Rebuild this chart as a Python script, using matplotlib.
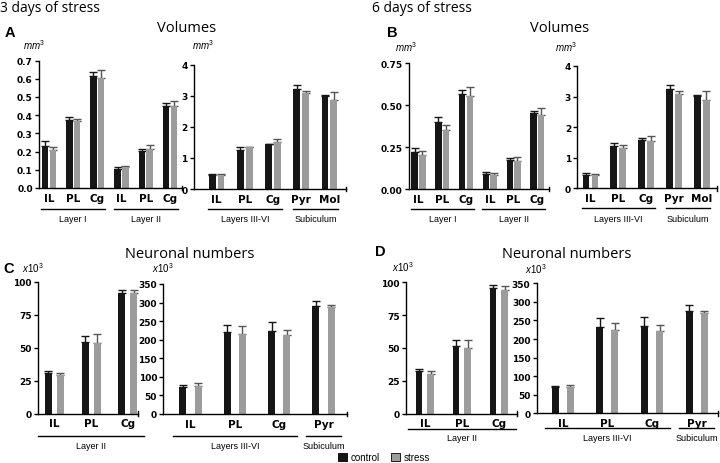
import matplotlib
matplotlib.use('Agg')
import matplotlib.pyplot as plt
import matplotlib.transforms as mtransforms
from matplotlib.patches import Patch
import numpy as np

plt.rcParams['mathtext.fontset'] = 'custom'
plt.rcParams['mathtext.it'] = 'Liberation Sans:italic'
plt.rcParams['mathtext.rm'] = 'Liberation Sans'

# ---------------- data ----------------
cats_vol_L = ['IL', 'PL', 'Cg', 'IL', 'PL', 'Cg']
cats_vol_R = ['IL', 'PL', 'Cg', 'Pyr', 'Mol']
cats_num_L = ['IL', 'PL', 'Cg']
cats_num_R = ['IL', 'PL', 'Cg', 'Pyr']

groups_vol_L = [('Layer I', 0, 2), ('Layer II', 3, 5)]
groups_vol_R = [('Layers III-VI', 0, 2), ('Subiculum', 3, 4)]
groups_num_L = [('Layer II', 0, 2)]
groups_num_R = [('Layers III-VI', 0, 2), ('Subiculum', 3, 3)]

# Panel A (3 days) volumes
A_L_ctrl = [0.232, 0.373, 0.617, 0.104, 0.205, 0.452]
A_L_ctrl_err = [0.024, 0.019, 0.018, 0.012, 0.010, 0.015]
A_L_str = [0.209, 0.366, 0.604, 0.114, 0.214, 0.448]
A_L_str_err = [0.014, 0.013, 0.046, 0.006, 0.024, 0.028]

A_R_ctrl = [0.44, 1.26, 1.43, 3.22, 2.99]
A_R_ctrl_err = [0.03, 0.075, 0.03, 0.13, 0.03]
A_R_str = [0.45, 1.34, 1.515, 3.07, 2.86]
A_R_str_err = [0.03, 0.02, 0.085, 0.08, 0.265]

# Panel B (6 days) volumes
B_L_ctrl = [0.219, 0.398, 0.567, 0.090, 0.173, 0.452]
B_L_ctrl_err = [0.024, 0.030, 0.024, 0.010, 0.012, 0.016]
B_L_str = [0.205, 0.354, 0.557, 0.086, 0.169, 0.442]
B_L_str_err = [0.024, 0.028, 0.050, 0.012, 0.024, 0.042]

B_R_ctrl = [0.44, 1.37, 1.585, 3.257, 3.005]
B_R_ctrl_err = [0.055, 0.11, 0.055, 0.13, 0.033]
B_R_str = [0.44, 1.31, 1.563, 3.093, 2.896]
B_R_str_err = [0.033, 0.09, 0.14, 0.087, 0.27]

# Panel C (3 days) neuronal numbers
C_L_ctrl = [30.8, 54.7, 91.6]
C_L_ctrl_err = [1.3, 4.6, 2.0]
C_L_str = [29.5, 53.9, 91.6]
C_L_str_err = [1.5, 6.7, 2.5]

C_R_ctrl = [73.6, 220.0, 224.4, 290.0]
C_R_ctrl_err = [5.4, 20.6, 22.5, 15.2]
C_R_str = [76.3, 215.4, 213.6, 287.3]
C_R_str_err = [6.3, 22.5, 13.4, 7.2]

# Panel D (6 days) neuronal numbers
D_L_ctrl = [32.2, 51.4, 95.4]
D_L_ctrl_err = [1.5, 4.8, 2.8]
D_L_str = [30.4, 50.1, 94.4]
D_L_str_err = [2.0, 6.1, 3.1]

D_R_ctrl = [70.0, 233.4, 236.0, 276.5]
D_R_ctrl_err = [4.5, 23.3, 22.4, 16.1]
D_R_str = [71.8, 224.4, 222.6, 269.3]
D_R_str_err = [5.4, 19.8, 16.2, 7.2]

yt_vol_A = [0.0, 0.1, 0.2, 0.3, 0.4, 0.5, 0.6, 0.7]
yl_vol_A = ['0.0', '0.1', '0.2', '0.3', '0.4', '0.5', '0.6', '0.7']
yt_vol_B = [0.0, 0.25, 0.5, 0.75]
yl_vol_B = ['0.00', '0.25', '0.50', '0.75']
yt_vol_R = [0, 1, 2, 3, 4]
yl_vol_R = ['0', '1', '2', '3', '4']
yt_num_L = [0, 25, 50, 75, 100]
yl_num_L = ['0', '25', '50', '75', '100']
yt_num_R = [0, 50, 100, 150, 200, 250, 300, 350]
yl_num_R = ['0', '50', '100', '150', '200', '250', '300', '350']

legend_labels = ['control', 'stress']

# ---------------- style ----------------
C_CTRL = '#161616'
C_STR = '#9c9c9c'
E_STR = '#555555'
W, H = 720, 464
TITLE_FONT = ['Open Sans', 'DejaVu Sans']
AX_FONT = ['DejaVu Sans']
LAB_FONT = ['Liberation Sans', 'DejaVu Sans']

fig = plt.figure(figsize=(W / 100, H / 100), dpi=100)


def draw(rect, xlim, cats, ctrl, ctrl_err, strs, str_err, groups, yticks, ylabels,
         bw, off, line_off, text_off, pad):
    l, t, r, b = rect
    ax = fig.add_axes([l / W, 1 - b / H, (r - l) / W, (b - t) / H])
    ppu = (r - l) / (xlim[1] - xlim[0])
    cap = bw * ppu * 0.40  # half cap length in points
    x = np.arange(len(cats))
    ax.bar(x - off, ctrl, bw, color=C_CTRL, zorder=2)
    ax.bar(x + off, strs, bw, color=C_STR, zorder=2)
    z = np.zeros(len(x))
    ax.errorbar(x - off, ctrl, yerr=[z, ctrl_err], fmt='none', ecolor=C_CTRL,
                elinewidth=1.0, capsize=cap, capthick=1.0, zorder=1)
    ax.errorbar(x + off, strs, yerr=[z, str_err], fmt='none', ecolor=E_STR,
                elinewidth=1.0, capsize=cap, capthick=1.0, zorder=1)
    ax.set_xlim(*xlim)
    ax.set_ylim(yticks[0], yticks[-1])
    ax.set_yticks(yticks)
    ax.set_yticklabels(ylabels, fontweight='bold', fontsize=6.5, family=AX_FONT)
    ax.set_xticks(x)
    ax.set_xticklabels(cats, fontweight='bold', fontsize=7.5, family=AX_FONT)
    ax.tick_params(axis='x', length=0, pad=3.5)
    ax.tick_params(axis='y', length=3, width=1, pad=1.5)
    for s in ('top', 'right'):
        ax.spines[s].set_visible(False)
    for s in ('left', 'bottom'):
        ax.spines[s].set_linewidth(1.0)
    ax.patch.set_visible(False)
    base = ax.get_xaxis_transform()
    ax.plot([xlim[1], xlim[1]], [-0.018, 0.018], transform=base, clip_on=False,
            color='k', lw=1.0)
    tr_line = base + mtransforms.ScaledTranslation(0, -line_off / 100, fig.dpi_scale_trans)
    tr_text = base + mtransforms.ScaledTranslation(0, -text_off / 100, fig.dpi_scale_trans)
    for name, i0, i1 in groups:
        ax.plot([i0 - pad, i1 + pad], [0, 0], transform=tr_line, clip_on=False,
                color='k', lw=1.0)
        ax.text((i0 + i1) / 2, 0, name, transform=tr_text, ha='center', va='center',
                fontsize=6.5, family=LAB_FONT)
    return ax


# Panel A
draw((39, 61.5, 182, 189), (-0.41, 5.5), cats_vol_L, A_L_ctrl, A_L_ctrl_err, A_L_str,
     A_L_str_err, groups_vol_L, yt_vol_A, yl_vol_A, 0.27, 0.16, 21, 31, 0.32)
draw((194, 65.5, 346, 190), (-0.8, 4.585), cats_vol_R, A_R_ctrl, A_R_ctrl_err, A_R_str,
     A_R_str_err, groups_vol_R, yt_vol_R, yl_vol_R, 0.24, 0.155, 20, 30, 0.3)
# Panel B
draw((409, 64.3, 549, 190), (-0.4, 5.49), cats_vol_L, B_L_ctrl, B_L_ctrl_err, B_L_str,
     B_L_str_err, groups_vol_L, yt_vol_B, yl_vol_B, 0.27, 0.16, 20, 30, 0.32)
draw((577.3, 67, 716.7, 189.3), (-0.47, 4.53), cats_vol_R, B_R_ctrl, B_R_ctrl_err, B_R_str,
     B_R_str_err, groups_vol_R, yt_vol_R, yl_vol_R, 0.24, 0.16, 20, 30, 0.3)
# Panel C
draw((38, 283, 138, 414.5), (-0.45, 2.28), cats_num_L, C_L_ctrl, C_L_ctrl_err, C_L_str,
     C_L_str_err, groups_num_L, yt_num_L, yl_num_L, 0.19, 0.164, 22, 32, 0.45)
draw((163.3, 285, 346.7, 415), (-0.61, 3.52), cats_num_R, C_R_ctrl, C_R_ctrl_err, C_R_str,
     C_R_str_err, groups_num_R, yt_num_R, yl_num_R, 0.16, 0.173, 22, 32, 0.4)
# Panel D
draw((406, 283.3, 517, 414.5), (-0.51, 2.49), cats_num_L, D_L_ctrl, D_L_ctrl_err, D_L_str,
     D_L_str_err, groups_num_L, yt_num_L, yl_num_L, 0.18, 0.16, 15, 24, 0.45)
draw((536.7, 284.3, 718, 414.3), (-0.585, 3.48), cats_num_R, D_R_ctrl, D_R_ctrl_err, D_R_str,
     D_R_str_err, groups_num_R, yt_num_R, yl_num_R, 0.157, 0.17, 15, 24, 0.4)


def ftext(x, y, s, **kw):
    fig.text(x / W, 1 - y / H, s, **kw)


ftext(0, 8, '3 days of stress', fontsize=10, family=TITLE_FONT, ha='left', va='center')
ftext(372, 8, '6 days of stress', fontsize=10, family=TITLE_FONT, ha='left', va='center')
ftext(187, 29, 'Volumes', fontsize=10.5, family=TITLE_FONT, ha='center', va='center')
ftext(560, 29, 'Volumes', fontsize=10.5, family=TITLE_FONT, ha='center', va='center')
ftext(190, 255, 'Neuronal numbers', fontsize=10.5, family=TITLE_FONT, ha='center', va='center')
ftext(567, 254, 'Neuronal numbers', fontsize=10.5, family=TITLE_FONT, ha='center', va='center')

for lx, ly, s in [(5, 33, 'A'), (387, 33, 'B'), (3, 269, 'C'), (375, 252, 'D')]:
    ftext(lx, ly, s, fontsize=10.5, fontweight='bold', family=LAB_FONT, ha='left', va='center')

MM3 = r'$\mathit{mm}^{\mathit{3}}$'
X103 = r'$\mathit{x10}^{\mathit{3}}$'
for ux, uy, s in [(23, 45, MM3), (192, 45, MM3), (395, 47, MM3), (555, 47, MM3),
                  (22, 268, X103), (152, 268, X103), (392, 267, X103), (525, 269, X103)]:
    ftext(ux, uy, s, fontsize=7, family=LAB_FONT, ha='left', va='center')

handles = [Patch(facecolor=C_CTRL, edgecolor='k', linewidth=0.6, label=legend_labels[0]),
           Patch(facecolor=C_STR, edgecolor='k', linewidth=0.6, label=legend_labels[1])]
fig.legend(handles=handles, loc='center', bbox_to_anchor=(384 / W, 1 - 458 / H), ncol=2,
           frameon=False, prop={'family': LAB_FONT, 'size': 7}, handlelength=0.9,
           handleheight=0.9, handletextpad=0.4, columnspacing=1.2, borderaxespad=0,
           borderpad=0)

fig.savefig('out.png', dpi=100)
